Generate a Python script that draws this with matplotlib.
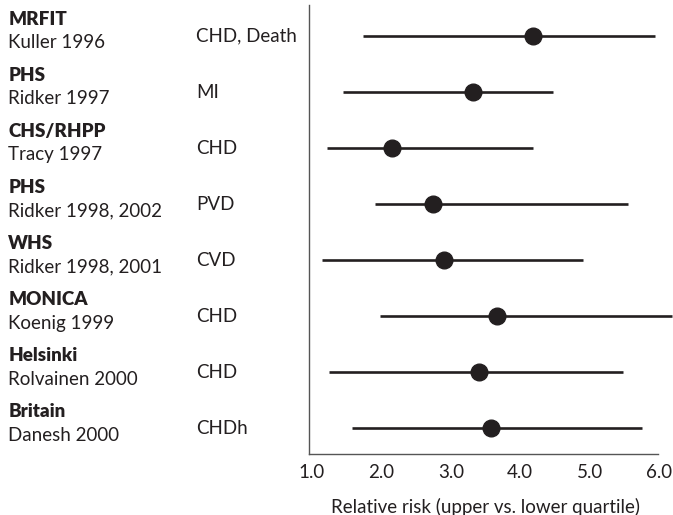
import matplotlib
matplotlib.use('Agg')
import matplotlib.pyplot as plt

# study data, top to bottom
studies = ['MRFIT', 'PHS', 'CHS/RHPP', 'PHS', 'WHS', 'MONICA', 'Helsinki', 'Britain']
authors = ['Kuller 1996', 'Ridker 1997', 'Tracy 1997', 'Ridker 1998, 2002',
           'Ridker 1998, 2001', 'Koenig 1999', 'Rolvainen 2000', 'Danesh 2000']
outcomes = ['CHD, Death', 'MI', 'CHD', 'PVD', 'CVD', 'CHD', 'CHD', 'CHDh']
rr = [4.18, 3.32, 2.16, 2.75, 2.90, 3.66, 3.40, 3.58]
lower = [1.73, 1.45, 1.22, 1.91, 1.14, 1.98, 1.25, 1.57]
upper = [5.94, 4.47, 4.19, 5.55, 4.91, 6.19, 5.48, 5.75]
xticks = [1.0, 2.0, 3.0, 4.0, 5.0, 6.0]

ink = '#231f20'
plt.rcParams['font.family'] = ['Lato', 'DejaVu Sans']
fs = 13.5

fig = plt.figure(figsize=(6.73, 5.15), dpi=100)
ax = fig.add_axes([0.4594, 0.118, 0.5406, 0.872])

rows = list(range(len(studies)))
ax.hlines(rows, lower, upper, color=ink, lw=1.9)
ax.plot(rr, rows, 'o', color=ink, ms=12, zorder=3)

ax.set_xlim(0.96, 6.2)
ax.set_ylim(7.46, -0.55)

for sp in ['top', 'right']:
    ax.spines[sp].set_visible(False)
ax.spines['left'].set_color('#555555')
ax.spines['bottom'].set_color('#555555')
ax.spines['left'].set_linewidth(1.0)
ax.spines['bottom'].set_linewidth(1.0)
ax.spines['bottom'].set_bounds(0.96, 5.98)

ax.set_yticks([])
ax.set_xticks(xticks)
ax.set_xticklabels(['%.1f' % t for t in xticks], fontsize=fs, color=ink)
ax.tick_params(axis='x', length=0, pad=7)
ax.text(3.5, 8.4, 'Relative risk (upper vs. lower quartile)', ha='center', va='center',
        fontsize=fs, color=ink)

# left-hand text columns (axes fraction x, data y)
trans = ax.get_yaxis_transform()
x_name = (8 - 309) / 364.0
x_meas = (196 - 309) / 364.0
for i in rows:
    ax.text(x_name, i - 0.2, studies[i], transform=trans, fontsize=fs, fontweight='heavy',
            color=ink, va='baseline', clip_on=False)
    ax.text(x_name, i + 0.22, authors[i], transform=trans, fontsize=fs,
            color=ink, va='baseline', clip_on=False)
    ax.text(x_meas, i + 0.1, outcomes[i], transform=trans, fontsize=fs,
            color=ink, va='baseline', clip_on=False)

plt.savefig('out.png', dpi=100)
